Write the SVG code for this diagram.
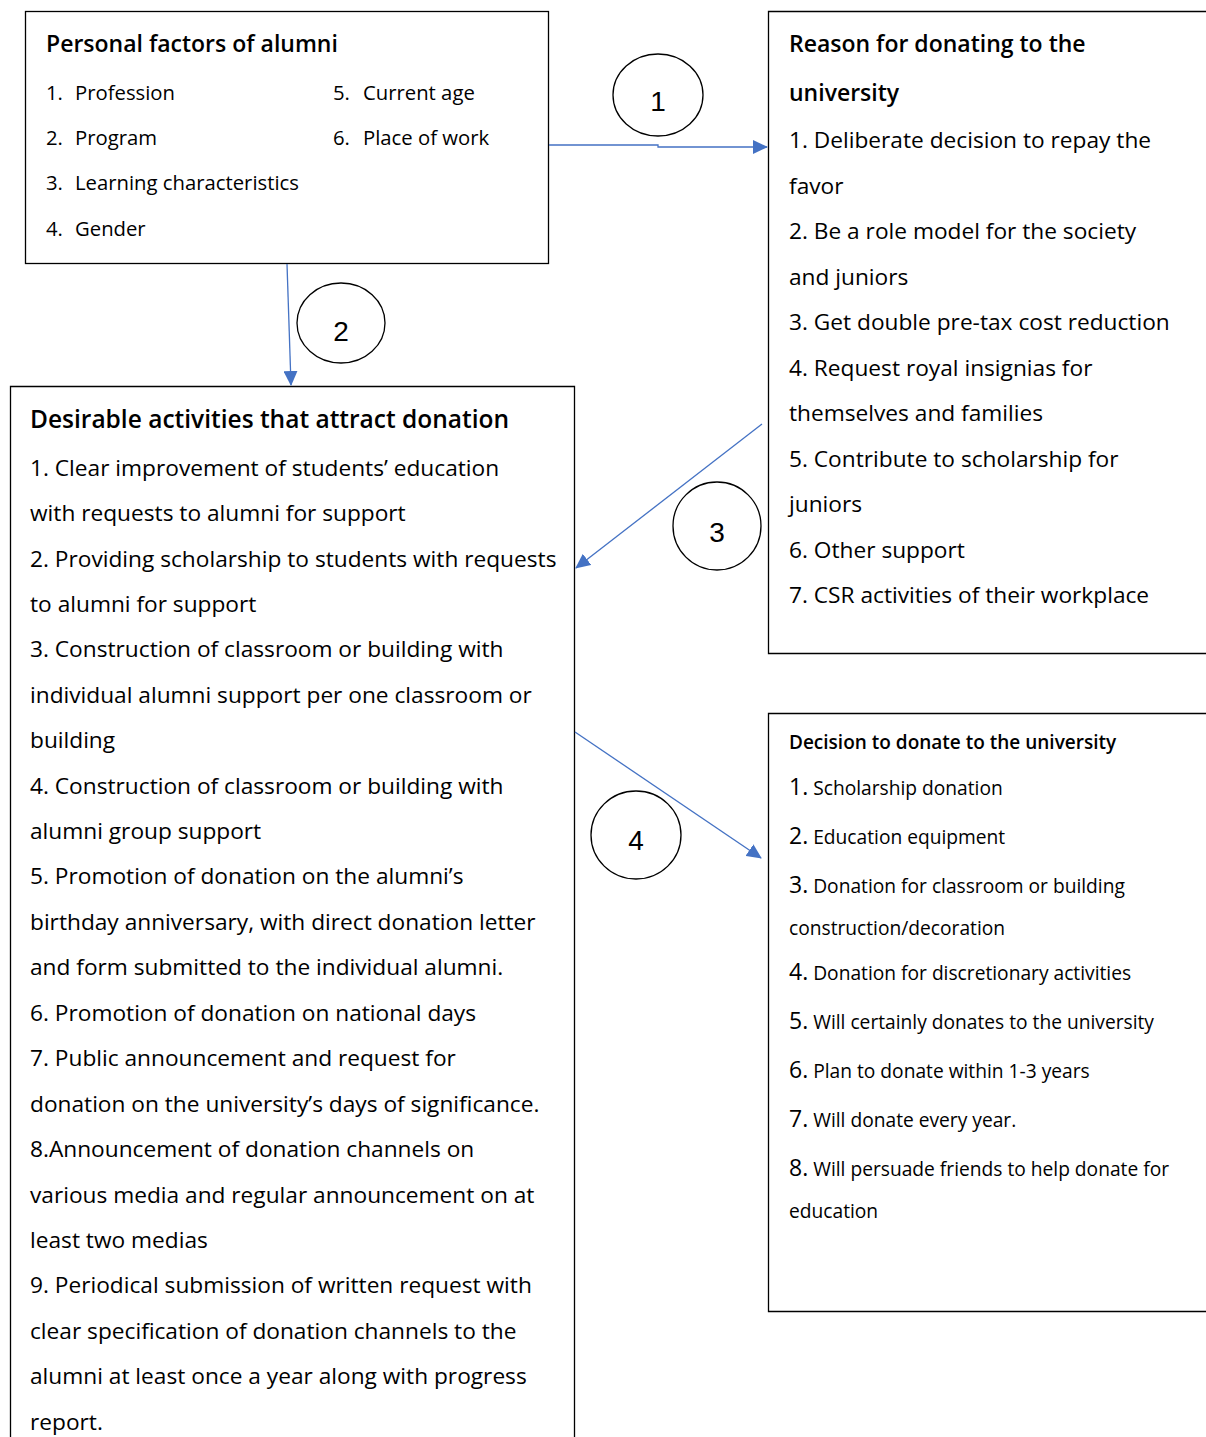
<svg xmlns="http://www.w3.org/2000/svg" width="1206" height="1437" viewBox="0 0 1206 1437">
<style>
.box{fill:#fff;stroke:#000;stroke-width:1.3}
.t{font-family:"Open Sans","Noto Sans",sans-serif;fill:#000}
.h{font-size:23px;font-weight:600}
.h3{font-size:24.5px;font-weight:600}
.h4{font-size:19px;font-weight:600}
.i{font-size:22.7px}
.p{font-size:20.3px}
.s{font-size:19.2px}
.n{font-size:23px}
.c{fill:none;stroke:#000;stroke-width:1.3}
.cn{font-family:"Liberation Sans",Arial,sans-serif;font-size:28px;text-anchor:middle;fill:#000}
.ar{fill:none;stroke:#4472C4;stroke-width:1.3}
</style>
<defs>
<marker id="ah" markerWidth="15" markerHeight="14" refX="14" refY="7" orient="auto" markerUnits="userSpaceOnUse" viewBox="0 0 15 14">
<path d="M0,0 L15,7 L0,14 z" fill="#4472C4"/>
</marker>
</defs>
<rect width="1206" height="1437" fill="#fff"/>

<g id="node-personal">
<rect class="box" x="25.5" y="11.5" width="523" height="252"/>
<text class="t h" x="46" y="52">Personal factors of alumni</text>
<text class="t p" x="46" y="100">1.<tspan x="75">Profession</tspan></text>
<text class="t p" x="46" y="145">2.<tspan x="75">Program</tspan></text>
<text class="t p" x="46" y="190">3.<tspan x="75">Learning characteristics</tspan></text>
<text class="t p" x="46" y="236">4.<tspan x="75">Gender</tspan></text>
<text class="t p" x="333" y="100">5.<tspan x="363">Current age</tspan></text>
<text class="t p" x="333" y="145">6.<tspan x="363">Place of work</tspan></text>
</g>

<g id="node-reason">
<path class="box" d="M1210,11.5 H768.5 V653.5 H1210"/>
<text class="t h" x="789" y="52">Reason for donating to the</text>
<text class="t h" x="789" y="101">university</text>
<text class="t i" x="789" y="148">1. Deliberate decision to repay the</text>
<text class="t i" x="789" y="194">favor</text>
<text class="t i" x="789" y="239">2. Be a role model for the society</text>
<text class="t i" x="789" y="285">and juniors</text>
<text class="t i" x="789" y="330">3. Get double pre-tax cost reduction</text>
<text class="t i" x="789" y="376">4. Request royal insignias for</text>
<text class="t i" x="789" y="421">themselves and families</text>
<text class="t i" x="789" y="467">5. Contribute to scholarship for</text>
<text class="t i" x="789" y="512">juniors</text>
<text class="t i" x="789" y="558">6. Other support</text>
<text class="t i" x="789" y="603">7. CSR activities of their workplace</text>
</g>

<g id="node-activities">
<path class="box" d="M10.5,1440 V386.5 H574.5 V1440"/>
<text class="t h3" x="30" y="428">Desirable activities that attract donation</text>
<text class="t i" x="30" y="476">1. Clear improvement of students’ education</text>
<text class="t i" x="30" y="521">with requests to alumni for support</text>
<text class="t i" x="30" y="567">2. Providing scholarship to students with requests</text>
<text class="t i" x="30" y="612">to alumni for support</text>
<text class="t i" x="30" y="657">3. Construction of classroom or building with</text>
<text class="t i" x="30" y="703">individual alumni support per one classroom or</text>
<text class="t i" x="30" y="748">building</text>
<text class="t i" x="30" y="794">4. Construction of classroom or building with</text>
<text class="t i" x="30" y="839">alumni group support</text>
<text class="t i" x="30" y="884">5. Promotion of donation on the alumni’s</text>
<text class="t i" x="30" y="930">birthday anniversary, with direct donation letter</text>
<text class="t i" x="30" y="975">and form submitted to the individual alumni.</text>
<text class="t i" x="30" y="1021">6. Promotion of donation on national days</text>
<text class="t i" x="30" y="1066">7. Public announcement and request for</text>
<text class="t i" x="30" y="1112">donation on the university’s days of significance.</text>
<text class="t i" x="30" y="1157">8.Announcement of donation channels on</text>
<text class="t i" x="30" y="1203">various media and regular announcement on at</text>
<text class="t i" x="30" y="1248">least two medias</text>
<text class="t i" x="30" y="1293">9. Periodical submission of written request with</text>
<text class="t i" x="30" y="1339">clear specification of donation channels to the</text>
<text class="t i" x="30" y="1384">alumni at least once a year along with progress</text>
<text class="t i" x="30" y="1430">report.</text>
</g>

<g id="node-decision">
<path class="box" d="M1210,713.5 H768.5 V1311.5 H1210"/>
<text class="t h4" x="789" y="749">Decision to donate to the university</text>
<text class="t s" x="789" y="795"><tspan class="n">1.</tspan> Scholarship donation</text>
<text class="t s" x="789" y="844"><tspan class="n">2.</tspan> Education equipment</text>
<text class="t s" x="789" y="893"><tspan class="n">3.</tspan> Donation for classroom or building</text>
<text class="t s" x="789" y="935">construction/decoration</text>
<text class="t s" x="789" y="980"><tspan class="n">4.</tspan> Donation for discretionary activities</text>
<text class="t s" x="789" y="1029"><tspan class="n">5.</tspan> Will certainly donates to the university</text>
<text class="t s" x="789" y="1078"><tspan class="n">6.</tspan> Plan to donate within 1-3 years</text>
<text class="t s" x="789" y="1127"><tspan class="n">7.</tspan> Will donate every year.</text>
<text class="t s" x="789" y="1176"><tspan class="n">8.</tspan> Will persuade friends to help donate for</text>
<text class="t s" x="789" y="1218">education</text>
</g>

<g id="connectors">
<path class="ar" d="M549,145 H658 V147 H767" marker-end="url(#ah)"/>
<path class="ar" d="M287,264 L291,385" marker-end="url(#ah)"/>
<path class="ar" d="M762,424 L576,568" marker-end="url(#ah)"/>
<path class="ar" d="M575,732 L761,858" marker-end="url(#ah)"/>
</g>

<g id="label-1">
<ellipse class="c" cx="658" cy="95" rx="45" ry="41"/>
<text class="cn" x="658" y="111">1</text>
</g>
<g id="label-2">
<ellipse class="c" cx="341" cy="323" rx="44" ry="40"/>
<text class="cn" x="341" y="341">2</text>
</g>
<g id="label-3">
<ellipse class="c" cx="717" cy="526" rx="44" ry="44"/>
<text class="cn" x="717" y="542">3</text>
</g>
<g id="label-4">
<ellipse class="c" cx="636" cy="835" rx="45" ry="44"/>
<text class="cn" x="636" y="850">4</text>
</g>
</svg>
